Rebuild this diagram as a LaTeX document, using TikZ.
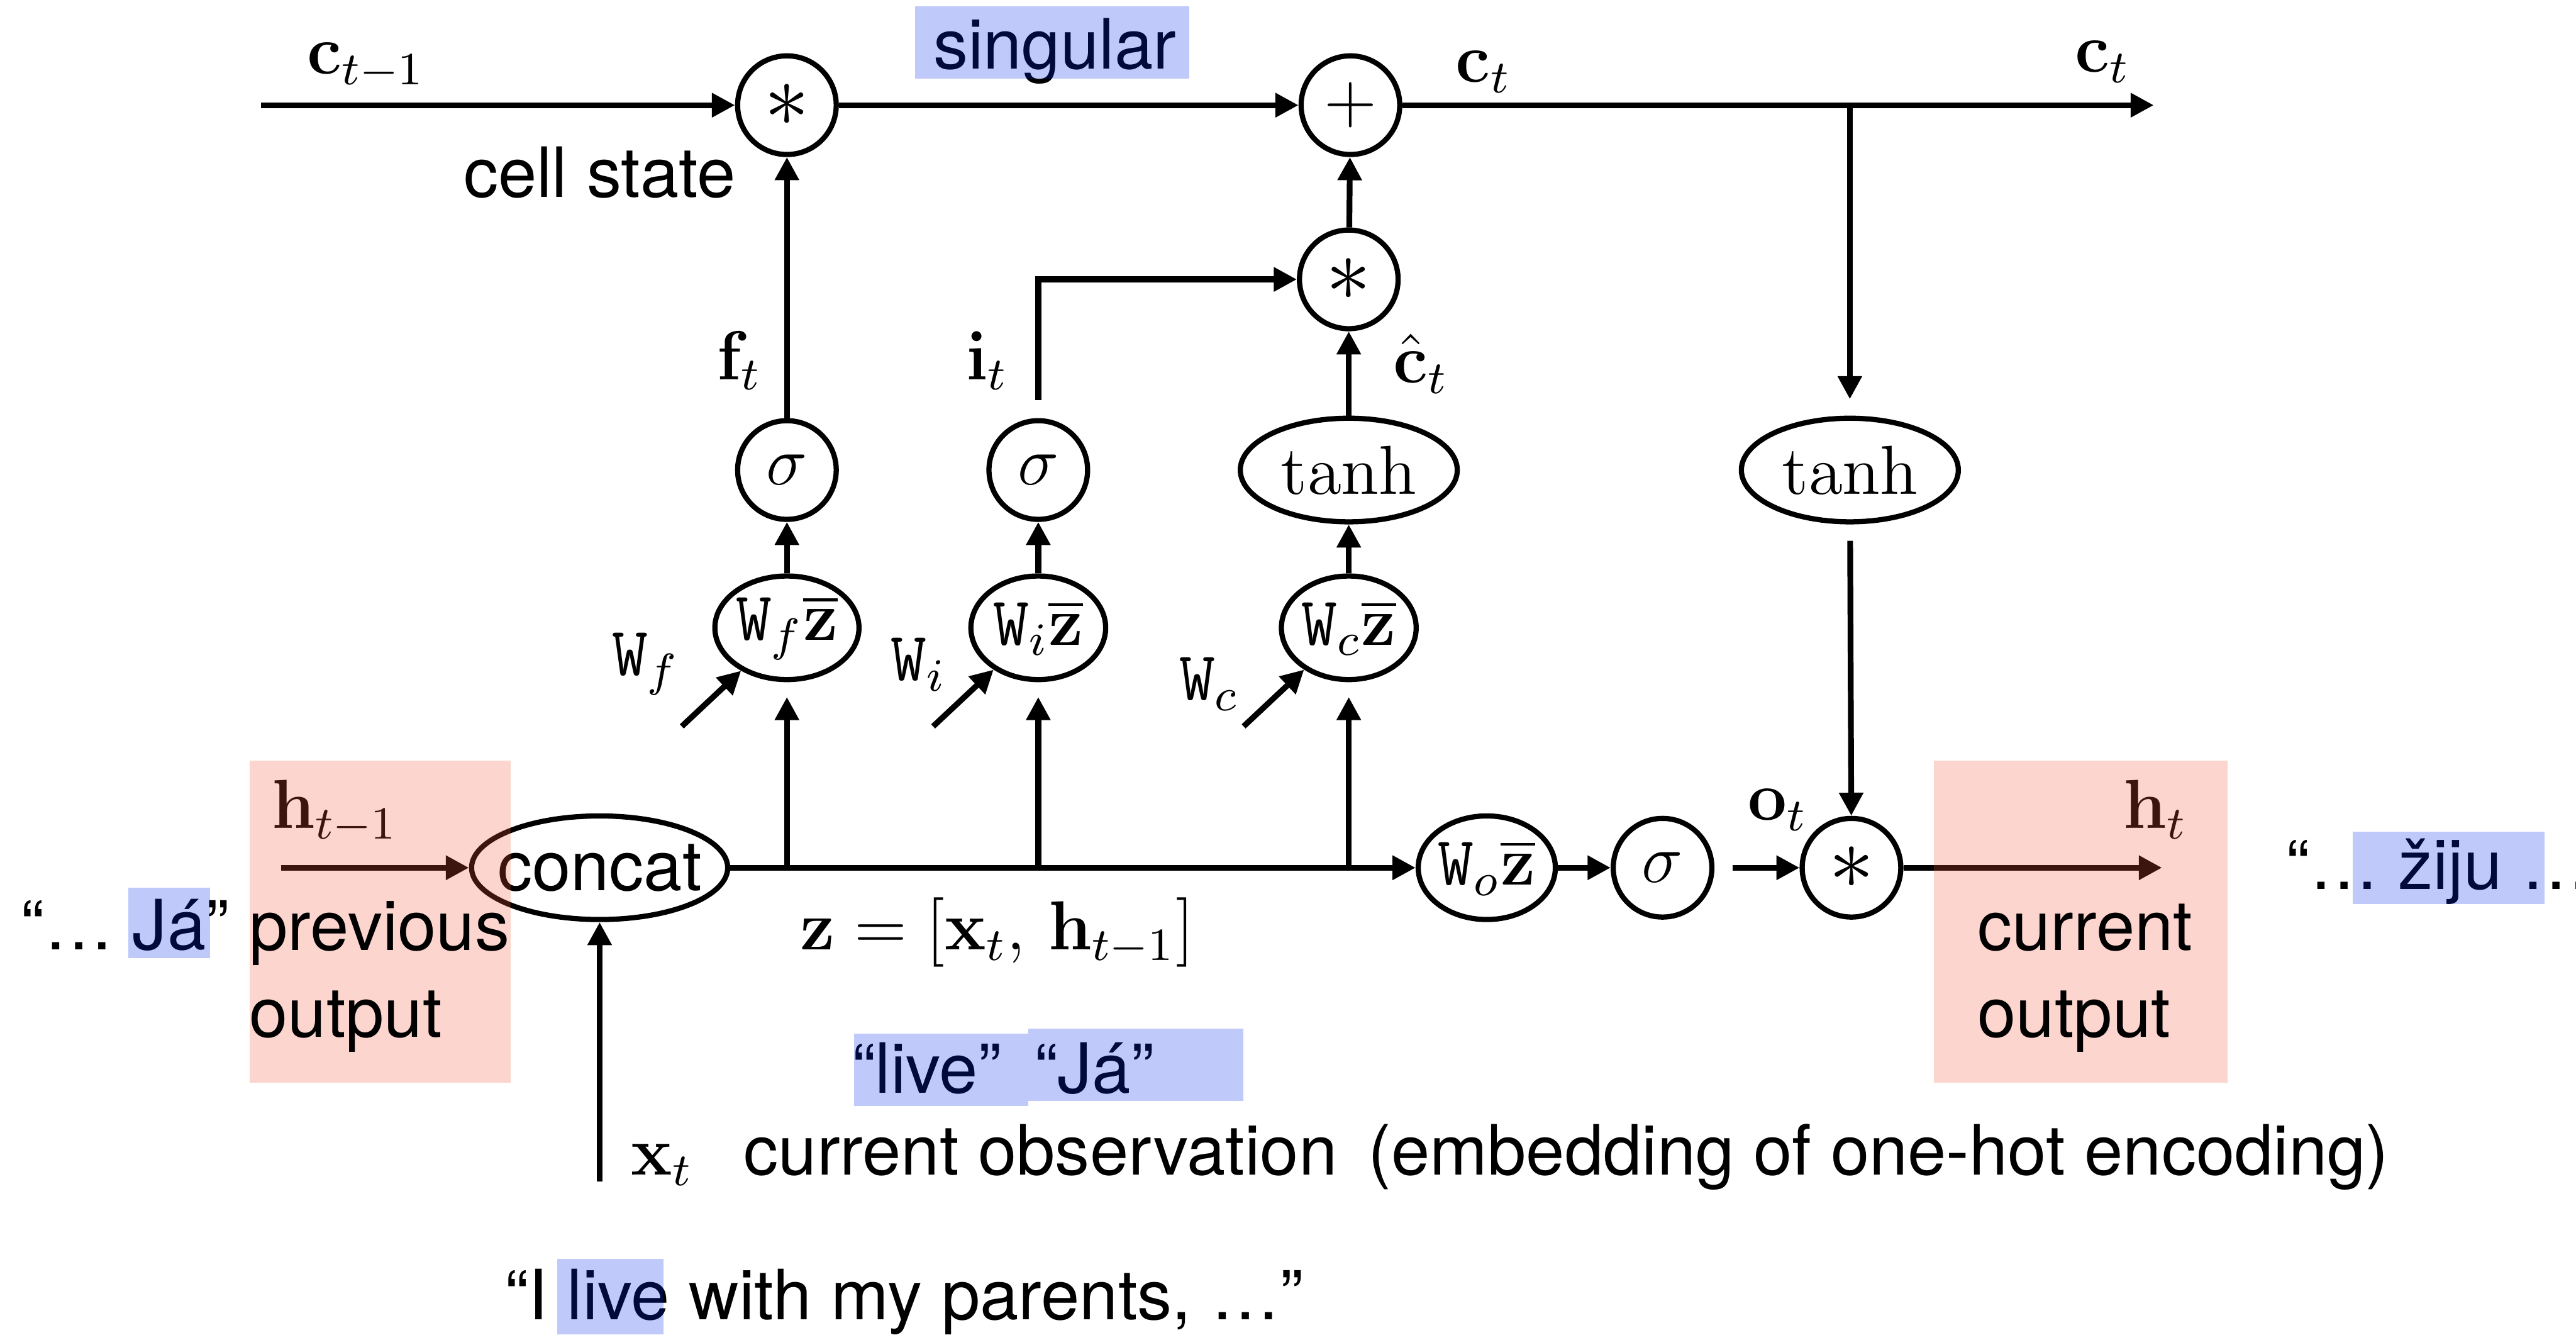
\documentclass[tikz,border=0pt]{standalone}
\usepackage{amsmath}
\usepackage[no-math]{fontspec}
\setmainfont{TeX Gyre Heros}
\usepackage{tikz}
\usetikzlibrary{arrows.meta,positioning,shapes.geometric}
\definecolor{hlblue}{RGB}{0,40,236}
\definecolor{hlred}{RGB}{247,87,63}
\newcommand{\prodsym}{\scalebox{1.3}{$\ast$}}

\begin{document}
\begin{tikzpicture}[
  x=0.01cm, y=-0.01cm,
  font=\fontsize{12}{15}\selectfont,
  line width=1pt,
  op/.style={draw,circle,line width=0.9pt,minimum size=6mm,inner sep=0pt},
  fn/.style={draw,ellipse,line width=0.9pt,inner sep=0pt,minimum height=6.3mm},
  wz/.style={fn,minimum width=8.2mm},
  th/.style={fn,minimum width=13.2mm},
  lbl/.style={inner sep=0pt},
  arr/.style={-{Triangle[length=4pt,width=4pt]}},
  hl/.style={fill=hlblue,fill opacity=.25},
  redbox/.style={fill=hlred,fill opacity=.25}
]
  \useasboundingbox (0,0) rectangle (1568,812);

  \coordinate (cin) at (159,64);
  \node[op] (m1) at (479,64) {\prodsym};
  \node[op] (add) at (822,64) {$+$};
  \coordinate (cout) at (1311,64);
  \node[op] (m2) at (821,170) {\prodsym};

  \node[op] (sf) at (479,286) {$\sigma$};
  \node[op] (si) at (632,286) {$\sigma$};
  \node[th] (tc) at (821,286) {$\tanh$};
  \node[th] (to) at (1126,286) {$\tanh$};
  \node[wz] (wf) at (479,382) {$\mathtt{W}_f\overline{\mathbf{z}}$};
  \node[wz] (wi) at (632,382) {$\mathtt{W}_i\overline{\mathbf{z}}$};
  \node[wz] (wc) at (821,382) {$\mathtt{W}_c\overline{\mathbf{z}}$};
  \coordinate (wfin) at (415,442);
  \coordinate (wiin) at (568,442);
  \coordinate (wcin) at (757,442);

  \coordinate (hin) at (171,528);
  \node[fn,inner xsep=-2pt] (cat) at (365,528) {concat};
  \node[wz] (wo) at (905,528) {$\mathtt{W}_o\overline{\mathbf{z}}$};
  \node[op] (so) at (1012,528) {$\sigma$};
  \node[op] (m3) at (1127,528) {\prodsym};
  \coordinate (hout) at (1316,528);
  \coordinate (xin) at (365,719);

  \draw[arr] (cin) -- (m1);
  \draw[arr] (m1) -- (add);
  \draw[arr] (add) -- (cout);
  \draw[arr] (m2) -- (add);
  \draw[arr] (tc) -- (m2);
  \draw[arr,shorten <=1.1mm] (si) |- (m2);
  \draw[arr] (sf) -- (m1);
  \draw[arr] (wf) -- (sf);
  \draw[arr] (wi) -- (si);
  \draw[arr] (wc) -- (tc);
  \draw[arr,shorten >=0.9mm] (wf |- cat) -- (wf);
  \draw[arr,shorten >=0.9mm] (wi |- cat) -- (wi);
  \draw[arr,shorten >=0.9mm] (wc |- cat) -- (wc);
  \draw[arr] (wfin) -- (wf);
  \draw[arr] (wiin) -- (wi);
  \draw[arr] (wcin) -- (wc);
  \draw[arr,shorten >=1mm] (to |- add) -- (to);
  \draw[arr,shorten <=1mm] (to) -- (m3);
  \draw[arr] (hin) -- (cat);
  \draw[arr] (xin) -- (cat);
  \draw[arr] (cat) -- (wo);
  \draw[arr] (wo) -- (so);
  \draw[arr,shorten <=1.1mm] (so) -- (m3);
  \draw[arr] (m3) -- (hout);

  \node[lbl,anchor=base] (lcprev) at (223,45) {$\mathbf{c}_{t-1}$};
  \node[lbl,anchor=base] (lct) at (903,50) {$\mathbf{c}_t$};
  \node[lbl,anchor=base] (lctout) at (1280,44) {$\mathbf{c}_t$};
  \node[lbl,anchor=base] (lsing) at (642,42) {singular};
  \node[lbl,anchor=base] (lcell) at (365,120) {cell state};
  \node[lbl,anchor=base] (lf) at (450,231) {$\mathbf{f}_t$};
  \node[lbl,anchor=base] (li) at (601,231) {$\mathbf{i}_t$};
  \node[lbl,anchor=base] (lch) at (865,233) {$\hat{\mathbf{c}}_t$};
  \node[lbl,anchor=base] (lwf) at (393,411) {$\mathtt{W}_f$};
  \node[lbl,anchor=base] (lwi) at (559,414) {$\mathtt{W}_i$};
  \node[lbl,anchor=base] (lwc) at (736,426) {$\mathtt{W}_c$};
  \node[lbl,anchor=base] (lh) at (204,504) {$\mathbf{h}_{t-1}$};
  \node[lbl,anchor=base] (lht) at (1312,504) {$\mathbf{h}_t$};
  \node[lbl,anchor=base] (lo) at (1082,499) {$\mathbf{o}_t$};
  \node[lbl,anchor=base] (lz) at (607,578) {$\mathbf{z}=[\mathbf{x}_t,\,\mathbf{h}_{t-1}]$};
  \node[lbl,anchor=base] (lx) at (403,715) {$\mathbf{x}_t$};
  \node[lbl,anchor=base west] (lobs) at (451,715) {current observation\hspace{.45em}(embedding of one-hot encoding)};
  \node[lbl,anchor=base west] (llive) at (517,665) {“live”};
  \node[lbl,anchor=base west] (lja) at (628,665) {“Já”};
  \node[lbl,anchor=base west] (lprevw) at (11,578) {“…~Já”};
  \node[lbl,anchor=base west] (lnext) at (1390,541) {“…~žiju~…};
  \node[lbl,anchor=base west] (lsent) at (306,803) {“I live with my parents, …”};

  \fill[hl] (557,4) rectangle (724,48);
  \fill[hl] (78,540) rectangle (128,583);
  \fill[hl] (1432,506) rectangle (1549,550);
  \fill[hl] (520,629) rectangle (626,673);
  \fill[hl] (626,626) rectangle (757,670);
  \fill[hl] (339,766) rectangle (404,812);
  \fill[redbox] (152,463) rectangle (311,659);
  \fill[redbox] (1177,463) rectangle (1356,659);

  \node[lbl,anchor=base west,align=left] (lprev) at (150,631) {previous\\output};
  \node[lbl,anchor=base west,align=left] (lcur) at (1202,631) {current\\output};
\end{tikzpicture}
\end{document}
